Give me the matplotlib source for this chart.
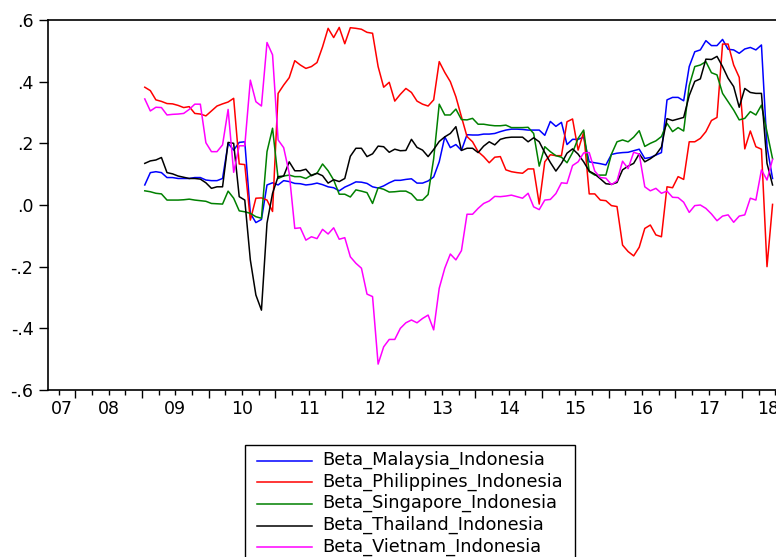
import numpy as np
import matplotlib.pyplot as plt
from matplotlib.lines import Line2D
from matplotlib.patches import Rectangle
from matplotlib.ticker import FixedLocator, NullFormatter

# rolling betas against Indonesia, monthly from 2009M01
START_YEAR = 2009

malaysia = [0.065, 0.105, 0.108, 0.105, 0.089, 0.089, 0.086, 0.086, 0.086, 0.089,
            0.089, 0.081, 0.079, 0.079, 0.086, 0.200, 0.178, 0.203, 0.205, -0.027,
            -0.057, -0.047, 0.065, 0.072, 0.065, 0.079, 0.076, 0.070, 0.069, 0.065,
            0.067, 0.071, 0.066, 0.059, 0.056, 0.046, 0.058, 0.066, 0.075, 0.074,
            0.070, 0.059, 0.055, 0.062, 0.072, 0.080, 0.080, 0.083, 0.085, 0.071,
            0.071, 0.078, 0.091, 0.140, 0.221, 0.186, 0.196, 0.177, 0.228, 0.227,
            0.227, 0.230, 0.230, 0.232, 0.238, 0.243, 0.246, 0.246, 0.245, 0.243,
            0.243, 0.243, 0.226, 0.271, 0.255, 0.268, 0.196, 0.213, 0.213, 0.220,
            0.140, 0.137, 0.134, 0.130, 0.164, 0.168, 0.170, 0.171, 0.176, 0.181,
            0.151, 0.154, 0.162, 0.170, 0.341, 0.349, 0.349, 0.338, 0.449, 0.497,
            0.503, 0.533, 0.517, 0.517, 0.537, 0.505, 0.503, 0.492, 0.506, 0.511,
            0.503, 0.519, 0.189, 0.086]

philippines = [0.382, 0.371, 0.341, 0.336, 0.329, 0.328, 0.323, 0.316, 0.319, 0.297,
               0.295, 0.289, 0.305, 0.321, 0.328, 0.334, 0.346, 0.133, 0.131, -0.049,
               0.022, 0.023, 0.016, -0.021, 0.362, 0.389, 0.413, 0.468, 0.454, 0.443,
               0.449, 0.462, 0.513, 0.573, 0.543, 0.576, 0.523, 0.575, 0.573, 0.570,
               0.560, 0.557, 0.449, 0.382, 0.398, 0.337, 0.359, 0.378, 0.365, 0.337,
               0.327, 0.321, 0.341, 0.465, 0.430, 0.400, 0.351, 0.286, 0.222, 0.205,
               0.173, 0.157, 0.137, 0.155, 0.157, 0.114, 0.108, 0.105, 0.103, 0.117,
               0.117, 0.003, 0.140, 0.163, 0.160, 0.160, 0.270, 0.279, 0.178, 0.236,
               0.036, 0.036, 0.016, 0.014, -0.002, -0.005, -0.130, -0.151, -0.165, -0.137,
               -0.076, -0.065, -0.097, -0.103, 0.059, 0.056, 0.092, 0.083, 0.205, 0.205,
               0.216, 0.238, 0.274, 0.284, 0.522, 0.522, 0.454, 0.414, 0.182, 0.240,
               0.189, 0.181, -0.200, 0.002]

singapore = [0.046, 0.043, 0.038, 0.036, 0.016, 0.016, 0.016, 0.017, 0.019, 0.016,
             0.014, 0.012, 0.005, 0.004, 0.003, 0.045, 0.022, -0.019, -0.022, -0.027,
             -0.038, -0.043, 0.173, 0.249, 0.086, 0.094, 0.097, 0.092, 0.092, 0.086,
             0.097, 0.103, 0.133, 0.111, 0.081, 0.035, 0.035, 0.026, 0.049, 0.045,
             0.040, 0.005, 0.056, 0.051, 0.042, 0.043, 0.045, 0.045, 0.036, 0.016,
             0.016, 0.034, 0.150, 0.327, 0.292, 0.292, 0.311, 0.277, 0.276, 0.281,
             0.262, 0.262, 0.259, 0.257, 0.257, 0.259, 0.251, 0.251, 0.251, 0.252,
             0.232, 0.126, 0.189, 0.173, 0.160, 0.155, 0.137, 0.170, 0.216, 0.243,
             0.108, 0.097, 0.097, 0.097, 0.165, 0.205, 0.211, 0.205, 0.220, 0.241,
             0.190, 0.200, 0.208, 0.222, 0.265, 0.238, 0.251, 0.240, 0.387, 0.449,
             0.454, 0.465, 0.429, 0.422, 0.362, 0.335, 0.308, 0.276, 0.281, 0.303,
             0.292, 0.324, 0.237, 0.150]

thailand = [0.135, 0.143, 0.146, 0.154, 0.105, 0.101, 0.094, 0.090, 0.086, 0.086,
            0.084, 0.072, 0.054, 0.059, 0.059, 0.203, 0.200, 0.027, 0.016, -0.178,
            -0.292, -0.341, -0.059, 0.038, 0.092, 0.094, 0.140, 0.111, 0.111, 0.116,
            0.095, 0.103, 0.095, 0.071, 0.082, 0.076, 0.086, 0.158, 0.184, 0.184,
            0.157, 0.166, 0.191, 0.189, 0.171, 0.181, 0.176, 0.177, 0.213, 0.187,
            0.178, 0.157, 0.180, 0.206, 0.221, 0.232, 0.254, 0.177, 0.184, 0.184,
            0.170, 0.191, 0.205, 0.195, 0.213, 0.218, 0.220, 0.220, 0.220, 0.205,
            0.218, 0.205, 0.170, 0.138, 0.110, 0.135, 0.168, 0.182, 0.165, 0.140,
            0.110, 0.100, 0.085, 0.069, 0.067, 0.073, 0.114, 0.126, 0.135, 0.166,
            0.140, 0.150, 0.163, 0.188, 0.280, 0.274, 0.279, 0.284, 0.355, 0.401,
            0.409, 0.473, 0.472, 0.482, 0.449, 0.411, 0.384, 0.317, 0.378, 0.365,
            0.362, 0.362, 0.135, 0.065]

vietnam = [0.344, 0.305, 0.317, 0.316, 0.292, 0.294, 0.295, 0.297, 0.310, 0.327,
           0.327, 0.202, 0.173, 0.173, 0.195, 0.310, 0.106, 0.192, 0.192, 0.405,
           0.335, 0.321, 0.527, 0.487, 0.211, 0.186, 0.103, -0.076, -0.074, -0.114,
           -0.103, -0.109, -0.079, -0.094, -0.074, -0.111, -0.106, -0.168, -0.189, -0.205,
           -0.289, -0.297, -0.516, -0.460, -0.436, -0.436, -0.400, -0.382, -0.373, -0.382,
           -0.368, -0.357, -0.405, -0.270, -0.205, -0.159, -0.178, -0.148, -0.030, -0.030,
           -0.011, 0.005, 0.013, 0.028, 0.027, 0.029, 0.032, 0.027, 0.022, 0.038,
           -0.006, -0.015, 0.016, 0.018, 0.037, 0.072, 0.070, 0.128, 0.140, 0.169,
           0.170, 0.110, 0.089, 0.087, 0.066, 0.078, 0.142, 0.118, 0.171, 0.165,
           0.059, 0.046, 0.054, 0.038, 0.045, 0.025, 0.024, 0.009, -0.024, -0.002,
           0.000, -0.011, -0.029, -0.051, -0.036, -0.032, -0.056, -0.036, -0.032, 0.022,
           0.016, 0.114, 0.081, 0.148]

series_names = ["Beta_Malaysia_Indonesia", "Beta_Philippines_Indonesia",
                "Beta_Singapore_Indonesia", "Beta_Thailand_Indonesia",
                "Beta_Vietnam_Indonesia"]
series_colors = ["#0000FF", "#FF0000", "#008000", "#000000", "#FF00FF"]

year_ticks = list(range(2007, 2019))
year_labels = ["07", "08", "09", "10", "11", "12", "13", "14", "15", "16", "17", "18"]
y_ticks = [0.6, 0.4, 0.2, 0.0, -0.2, -0.4, -0.6]
y_labels = [".6", ".4", ".2", ".0", "-.2", "-.4", "-.6"]

W, H = 776, 557
X_MIN, X_MAX = 2007.59, 2018.78

fig = plt.figure(figsize=(W / 100, H / 100), dpi=100)
# plot frame runs past the right edge of the canvas
ax = fig.add_axes([48 / W, (H - 390) / H, (794 - 48) / W, 370 / H])

n = len(malaysia)
t = START_YEAR + (np.arange(n) + 0.5) / 12.0

all_series = [malaysia, philippines, singapore, thailand, vietnam]
for vals, name, col in zip(all_series, series_names, series_colors):
    ax.plot(t, vals, color=col, lw=1.1, label=name)

ax.set_xlim(X_MIN, X_MAX)
ax.set_ylim(-0.6, 0.6)

ax.spines["right"].set_visible(False)
for s in ["left", "bottom", "top"]:
    ax.spines[s].set_linewidth(1.2)

ax.xaxis.set_major_locator(FixedLocator(year_ticks[1:]))
ax.xaxis.set_minor_locator(FixedLocator(np.arange(2007.75, X_MAX, 0.25)))
ax.xaxis.set_major_formatter(NullFormatter())
ax.tick_params(axis="x", which="major", direction="out", length=6, width=1)
ax.tick_params(axis="x", which="minor", direction="out", length=3.5, width=1)

ax.set_yticks(y_ticks, y_labels)
ax.tick_params(axis="y", direction="out", length=6.5, width=1, pad=4, labelsize=12.5)

# year labels sit in the middle of the visible part of each year
for yr, lab in zip(year_ticks, year_labels):
    lo, hi = max(yr, X_MIN), min(yr + 1, X_MAX)
    ax.text((lo + hi) / 2, -10 / 370, lab, transform=ax.get_xaxis_transform(),
            ha="center", va="top", fontsize=12.5)

# legend box below the plot, cut off by the bottom edge
box_l, box_t, box_r = 245, 445, 575
fig.add_artist(Rectangle((box_l / W, (H - 570) / H), (box_r - box_l) / W, (570 - box_t) / H,
                         transform=fig.transFigure, fill=False, edgecolor="black", lw=1))
for k, (name, col) in enumerate(zip(series_names, series_colors)):
    y_line = 460.7 + 21.65 * k
    fig.add_artist(Line2D([257 / W, 312 / W], [(H - y_line) / H] * 2,
                          transform=fig.transFigure, color=col, lw=1.1))
    fig.text(322 / W, (H - y_line - 4) / H, name, ha="left", va="baseline",
             fontsize=12.8)

fig.savefig("out.png", dpi=100)
